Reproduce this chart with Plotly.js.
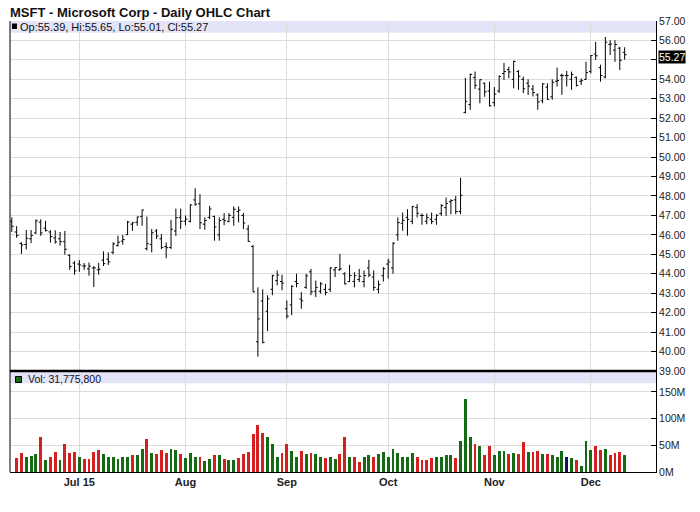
<!DOCTYPE html>
<html>
<head>
<meta charset="utf-8">
<script src="https://cdn.plot.ly/plotly-3.0.1.min.js"></script>
<style>
  html, body { margin: 0; padding: 0; background: #fff; }
  #chart { width: 700px; height: 512px; }
</style>
</head>
<body>
<div id="chart"></div>
<script>
// ---- Data ----
const dates = [
  '2015-06-11','2015-06-12','2015-06-15','2015-06-16','2015-06-17','2015-06-18','2015-06-19',
  '2015-06-22','2015-06-23','2015-06-24','2015-06-25','2015-06-26','2015-06-29','2015-06-30',
  '2015-07-01','2015-07-02','2015-07-06','2015-07-07','2015-07-08','2015-07-09','2015-07-10',
  '2015-07-13','2015-07-14','2015-07-15','2015-07-16','2015-07-17','2015-07-20','2015-07-21',
  '2015-07-22','2015-07-23','2015-07-24','2015-07-27','2015-07-28','2015-07-29','2015-07-30',
  '2015-07-31','2015-08-03','2015-08-04','2015-08-05','2015-08-06','2015-08-07','2015-08-10',
  '2015-08-11','2015-08-12','2015-08-13','2015-08-14','2015-08-17','2015-08-18','2015-08-19',
  '2015-08-20','2015-08-21','2015-08-24','2015-08-25','2015-08-26','2015-08-27','2015-08-28',
  '2015-08-31','2015-09-01','2015-09-02','2015-09-03','2015-09-04','2015-09-08','2015-09-09',
  '2015-09-10','2015-09-11','2015-09-14','2015-09-15','2015-09-16','2015-09-17','2015-09-18',
  '2015-09-21','2015-09-22','2015-09-23','2015-09-24','2015-09-25','2015-09-28','2015-09-29',
  '2015-09-30','2015-10-01','2015-10-02','2015-10-05','2015-10-06','2015-10-07','2015-10-08',
  '2015-10-09','2015-10-12','2015-10-13','2015-10-14','2015-10-15','2015-10-16','2015-10-19',
  '2015-10-20','2015-10-21','2015-10-22','2015-10-23','2015-10-26','2015-10-27','2015-10-28',
  '2015-10-29','2015-10-30','2015-11-02','2015-11-03','2015-11-04','2015-11-05','2015-11-06',
  '2015-11-09','2015-11-10','2015-11-11','2015-11-12','2015-11-13','2015-11-16','2015-11-17',
  '2015-11-18','2015-11-19','2015-11-20','2015-11-23','2015-11-24','2015-11-25','2015-11-27',
  '2015-11-30','2015-12-01','2015-12-02','2015-12-03','2015-12-04','2015-12-07','2015-12-08',
  '2015-12-09','2015-12-10'
];

const openPrice = [
  46.70,46.15,45.55,45.50,45.80,46.10,46.65, 46.35,46.15,45.85,45.80,45.65,44.95,44.55,
  44.50,44.40,44.25,44.30,44.20,44.70,44.75, 45.10,45.45,45.68,46.01,46.55,46.65,46.95,
  45.30,45.50,46.20,45.80,45.40,45.35,46.20, 46.90,46.70,46.70,47.80,47.60,46.55,46.90,
  46.95,46.00,46.80,46.70,46.90,47.20,47.00, 46.30,45.40,40.50,42.60,42.07,43.20,43.65,
  43.60,42.20,42.40,43.60,42.70,43.30,44.10, 43.10,43.10,43.20,43.20,44.20,44.20,44.00,
  43.60,43.60,43.70,43.60,44.30,43.83,43.20, 43.90,44.50,44.30,46.00,46.60,46.90,46.70,
  47.40,47.00,46.70,46.80,46.80,47.10,47.40, 47.70,47.80,47.20,52.30,52.70,54.10,53.50,
  53.80,53.40,52.80,53.40,54.30,54.50,54.00, 54.40,54.00,53.80,53.50,53.20,52.90,53.60,
  53.10,53.90,54.20,54.20,54.00,54.10,53.90, 54.00,54.40,55.30,54.60,54.12,55.80,55.50,
  55.60,55.39
];
const highPrice = [
  46.90,46.45,45.62,46.25,46.25,46.80,46.80, 46.72,46.24,46.24,46.15,46.20,45.00,44.65,
  44.70,44.55,44.58,44.40,44.55,45.15,45.10, 45.62,45.96,46.00,46.72,46.67,46.94,47.30,
  46.94,46.30,46.30,46.04,45.61,46.77,47.35, 47.35,47.00,47.57,48.40,48.09,46.90,47.49,
  46.98,46.90,47.12,47.12,47.46,47.46,47.12, 46.50,45.48,43.30,43.20,42.89,43.95,44.17,
  43.95,42.63,43.40,44.00,43.06,44.00,44.25, 43.65,43.57,43.48,44.34,44.34,45.02,44.08,
  44.46,44.08,44.25,44.17,44.72,44.17,43.65, 44.34,44.77,45.62,46.90,47.15,47.32,47.49,
  47.58,47.10,47.10,47.15,47.06,47.58,47.92, 47.83,48.00,48.94,54.07,54.30,54.40,54.00,
  53.83,53.88,53.60,54.20,54.85,54.65,54.96, 54.48,54.14,54.00,53.71,53.28,53.80,53.80,
  54.00,54.60,54.30,54.43,54.40,54.14,54.05, 54.90,55.25,55.93,54.75,56.18,56.01,56.01,
  55.67,55.65
];
const lowPrice = [
  46.15,45.85,45.02,45.25,45.57,46.05,45.95, 46.17,45.60,45.55,45.45,44.98,44.20,43.95,
  44.10,44.20,43.90,43.32,43.95,44.40,44.45, 45.00,45.40,45.50,45.99,46.21,46.47,46.47,
  45.19,45.10,45.78,45.27,44.80,45.27,45.95, 46.30,46.50,46.64,47.49,46.30,46.26,46.81,
  45.70,45.70,46.50,46.64,46.47,46.64,46.30, 45.65,43.06,39.74,40.42,41.05,42.90,43.40,
  43.15,41.70,41.87,43.30,42.20,43.23,42.90, 42.80,42.98,42.89,43.06,43.83,44.17,43.45,
  43.57,43.30,43.57,43.30,43.83,43.12,43.00, 43.60,43.75,44.00,45.70,46.21,45.96,46.55,
  46.90,46.52,46.55,46.55,46.52,46.98,46.98, 47.06,47.06,47.06,52.25,52.43,53.50,52.77,
  53.10,52.60,52.60,53.30,53.97,54.05,53.54, 53.46,53.29,53.20,53.12,52.43,52.77,52.95,
  52.95,53.63,53.20,53.63,53.46,53.63,53.71, 53.97,54.30,55.00,53.88,54.05,55.25,54.90,
  54.48,55.01
];
const closePrice = [
  46.44,45.97,45.48,45.83,45.97,46.72,46.10, 46.23,45.91,45.64,45.65,45.26,44.37,44.15,
  44.45,44.40,44.39,44.30,44.24,44.52,44.61, 45.54,45.62,45.76,46.66,46.62,46.92,47.28,
  45.54,46.11,45.94,45.35,45.34,46.29,46.88, 46.70,46.81,47.54,47.58,46.62,46.74,47.33,
  46.41,46.74,46.73,47.00,47.32,47.27,46.61, 45.66,43.07,41.68,40.47,42.71,43.90,43.93,
  43.52,41.82,43.36,43.50,42.61,43.89,43.07, 43.29,43.48,43.04,44.30,44.32,44.25,43.48,
  43.91,43.90,43.87,43.91,43.94,43.29,43.44, 44.26,44.61,45.57,46.63,46.75,46.80,47.45,
  47.11,47.00,46.89,46.68,47.01,47.51,47.62, 47.77,47.20,48.03,52.87,54.25,53.69,53.98,
  53.36,52.64,53.24,54.15,54.40,54.38,54.92, 54.16,53.51,53.65,53.32,52.84,53.77,52.97,
  53.85,53.94,54.19,54.19,54.25,53.69,53.93, 54.35,55.22,55.21,54.20,55.91,55.81,55.79,
  54.98,55.27
];
// volume in millions of shares (first day not drawn in the reference)
const volumeM = [
  null,26.3,35,28,30,33,65.6, 22,28,37,22,52,35,37,
  29,24,24,37,41,33,28, 29,24,27.5,27.5,31,31,44,
  61,35,33,41,35,42.5,41, 33,26,35,27.5,29,20,24,
  31,31,24,22,22,25.6,33, 37,70.6,89,72.5,65,52,29,
  35,52,39,29,39,33,35, 33,27.5,25.6,29,24,33,65,
  28,29,18,29,31,29,33, 37,29,43,35,29,29,35,
  29,22,22,25.6,29,27.5,31, 31,25.6,57.5,136,65,52,48,
  31,48,31,39,39,33,35, 33,55.6,37,37,39,33,33,
  31,29,39,29,25.6,22,10.6, 57.5,40.6,48,40.6,44,31,35,
  37,31.78
];

const monthTickDates = ['2015-07-01','2015-08-03','2015-09-01','2015-10-01','2015-11-02','2015-12-01'];
const monthTickLabels = ['Jul 15','Aug','Sep','Oct','Nov','Dec'];
const priceTicks = [39,40,41,42,43,44,45,46,47,48,49,50,51,52,53,54,55,56,57];
const priceTickLabels = ['39.00','40.00','41.00','42.00','43.00','44.00','45.00','46.00','47.00',
  '48.00','49.00','50.00','51.00','52.00','53.00','54.00','','56.00','57.00'];
const volumeTicks = [0,50,100,150];
const volumeTickLabels = ['0M','50M','100M','150M'];
const lastQuote = {op: '55.39', hi: '55.65', lo: '55.01', cl: '55.27', vol: '31,775,800'};

// ---- Styling ----
const UP = '#146b14', DOWN = '#d42020', FLAT = '#101070';
const volColors = closePrice.map((c, i) => {
  if (i === 0) return UP;
  if (c > closePrice[i - 1]) return UP;
  if (c < closePrice[i - 1]) return DOWN;
  return FLAT;
});

const FONT = 'Liberation Sans, Arial, Helvetica, sans-serif';
const GRID = '#dcdcdc';
const volTop = 0.224;

const traces = [
  {
    type: 'ohlc', x: dates, open: openPrice, high: highPrice, low: lowPrice, close: closePrice,
    xaxis: 'x', yaxis: 'y',
    increasing: {line: {color: '#000', width: 1}},
    decreasing: {line: {color: '#000', width: 1}},
    tickwidth: 0.4, hoverinfo: 'none', showlegend: false
  },
  {
    type: 'bar', x: dates, y: volumeM, xaxis: 'x', yaxis: 'y2',
    marker: {color: volColors, line: {width: 0}}, width: 0.6,
    hoverinfo: 'none', showlegend: false
  }
];

const layout = {
  width: 700, height: 512,
  margin: {l: 10, r: 44, t: 21, b: 40, pad: 0},
  paper_bgcolor: '#fff', plot_bgcolor: '#fff',
  font: {family: FONT, size: 11, color: '#222'},
  showlegend: false,
  bargap: 0,
  title: {
    text: '<b>MSFT - Microsoft Corp - Daily OHLC Chart</b>',
    x: 10 / 700, xref: 'container', xanchor: 'left',
    y: 1 - 12 / 512, yref: 'container', yanchor: 'middle',
    font: {family: FONT, size: 13, color: '#111'}
  },
  xaxis: {
    type: 'category', anchor: 'y2',
    range: [-0.37, 133.5],
    tickvals: monthTickDates, ticktext: monthTickLabels,
    tickfont: {family: FONT, size: 11, color: '#222', weight: 'bold'},
    ticks: '', showgrid: true, gridcolor: GRID, gridwidth: 1,
    showline: true, linecolor: '#000', linewidth: 1,
    rangeslider: {visible: false}, fixedrange: true, zeroline: false
  },
  yaxis: {
    domain: [volTop, 1], anchor: 'x', side: 'right',
    range: [39, 57], tickvals: priceTicks, ticktext: priceTickLabels,
    ticks: 'inside', ticklen: 5, tickcolor: '#000',
    tickfont: {family: FONT, size: 10.5, color: '#222'},
    showgrid: true, gridcolor: GRID, gridwidth: 1,
    showline: true, linecolor: '#000', linewidth: 1, zeroline: false, fixedrange: true
  },
  yaxis2: {
    domain: [0, volTop], anchor: 'x', side: 'right',
    range: [0, 189.4], tickvals: volumeTicks, ticktext: volumeTickLabels,
    ticks: 'inside', ticklen: 5, tickcolor: '#000',
    tickfont: {family: FONT, size: 10.5, color: '#222'},
    showgrid: true, gridcolor: GRID, gridwidth: 1,
    showline: true, linecolor: '#000', linewidth: 1, zeroline: false, fixedrange: true
  },
  shapes: [
    // legend bands
    {type: 'rect', xref: 'paper', yref: 'paper', x0: 0, x1: 1, y0: 1 - 11.7 / 451, y1: 1,
     fillcolor: '#e4e4f8', line: {width: 0}, layer: 'between'},
    {type: 'rect', xref: 'paper', yref: 'paper', x0: 0, x1: 1, y0: volTop - 12.3 / 451, y1: volTop,
     fillcolor: '#e4e4f8', line: {width: 0}, layer: 'between'},
    // legend squares
    {type: 'rect', xref: 'paper', yref: 'paper', xsizemode: 'pixel', ysizemode: 'pixel',
     xanchor: 0, yanchor: 1, x0: 2, x1: 7, y0: -2.5, y1: -8,
     fillcolor: '#000', line: {width: 0}},
    {type: 'rect', xref: 'paper', yref: 'paper', xsizemode: 'pixel', ysizemode: 'pixel',
     xanchor: 0, yanchor: volTop, x0: 5.5, x1: 11.5, y0: -5.5, y1: -11.5,
     fillcolor: '#146b14', line: {color: '#000', width: 1}},
    // panel divider
    {type: 'line', xref: 'paper', yref: 'paper', x0: 0, x1: 1, y0: volTop, y1: volTop,
     line: {color: '#000', width: 2.5}},
    // left border
    {type: 'line', xref: 'paper', yref: 'paper', x0: 0, x1: 0, y0: 0, y1: 1,
     line: {color: '#000', width: 1}}
  ],
  annotations: [
    {xref: 'paper', yref: 'paper', x: 0, y: 1, xanchor: 'left', yanchor: 'middle',
     xshift: 8, yshift: -5.5, showarrow: false,
     text: 'Op:' + lastQuote.op + ', Hi:' + lastQuote.hi + ', Lo:' + lastQuote.lo + ', Cl:' + lastQuote.cl,
     font: {family: FONT, size: 11, color: '#111'}},
    {xref: 'paper', yref: 'paper', x: 0, y: volTop, xanchor: 'left', yanchor: 'middle',
     xshift: 16, yshift: -8, showarrow: false,
     text: 'Vol: ' + lastQuote.vol,
     font: {family: FONT, size: 10.5, color: '#111'}},
    {xref: 'paper', yref: 'y', x: 1, y: closePrice[closePrice.length - 1], xanchor: 'left', yanchor: 'middle',
     xshift: 2, yshift: -2, showarrow: false, bgcolor: '#000', borderpad: 0,
     text: lastQuote.cl, font: {family: FONT, size: 10.5, color: '#fff'}}
  ]
};

Plotly.newPlot('chart', traces, layout, {staticPlot: true, displayModeBar: false});
</script>
</body>
</html>
